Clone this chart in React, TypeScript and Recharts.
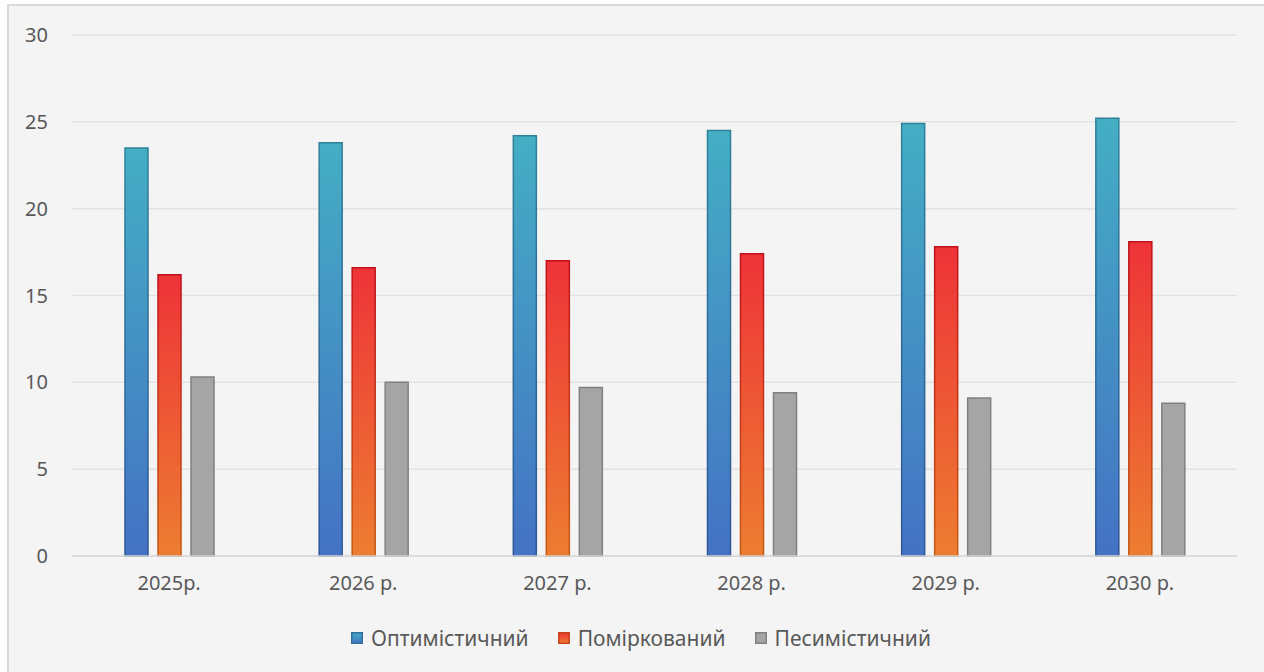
import { BarChart, Bar, XAxis, YAxis, CartesianGrid } from "recharts";

const years = ["2025р.", "2026 р.", "2027 р.", "2028 р.", "2029 р.", "2030 р."];
const optimistic = [23.5, 23.8, 24.2, 24.5, 24.9, 25.2];
const moderate = [16.2, 16.6, 17.0, 17.4, 17.8, 18.1];
const pessimistic = [10.3, 10.0, 9.7, 9.4, 9.1, 8.8];
const yTicks = [0, 5, 10, 15, 20, 25, 30];

const SERIES = [
  { key: "opt", label: "Оптимістичний", fill: "url(#gBlue)", stroke: "url(#sBlue)", swatch: "url(#lgBlue)", swStroke: "#2f6fa0" },
  { key: "mod", label: "Поміркований", fill: "url(#gRed)", stroke: "url(#sRed)", swatch: "url(#lgRed)", swStroke: "#c5441a" },
  { key: "pes", label: "Песимістичний", fill: "#a5a5a5", stroke: "#808080", swatch: "#a5a5a5", swStroke: "#808080" },
];

const data = years.map((year, i) => ({
  year,
  opt: optimistic[i],
  mod: moderate[i],
  pes: pessimistic[i],
}));

const FONT = "'Noto Sans', sans-serif";
const TEXT = "#595959";

function LegendRow() {
  return (
    <div
      style={{
        position: "absolute",
        left: 0,
        width: 1282,
        top: 624,
        display: "flex",
        justifyContent: "center",
        gap: 29,
        fontFamily: FONT,
        fontSize: 21,
        color: TEXT,
      }}
    >
      {SERIES.map((s) => (
        <div key={s.key} style={{ display: "flex", alignItems: "center" }}>
          <svg width={12} height={12} style={{ marginRight: 8 }}>
            <rect x={0.75} y={0.75} width={10.5} height={10.5} fill={s.swatch} stroke={s.swStroke} strokeWidth={1.5} />
          </svg>
          <span>{s.label}</span>
        </div>
      ))}
    </div>
  );
}

export default function App() {
  return (
    <div style={{ position: "absolute", left: 0, top: 0, width: 1264, height: 672, background: "#fff", overflow: "hidden" }}>
      <svg width={0} height={0} style={{ position: "absolute" }}>
        <defs>
          <linearGradient id="lgBlue" x1="0" y1="0" x2="0" y2="1">
            <stop offset="0%" stopColor="#44aec4" />
            <stop offset="100%" stopColor="#4472c4" />
          </linearGradient>
          <linearGradient id="lgRed" x1="0" y1="0" x2="0" y2="1">
            <stop offset="0%" stopColor="#ee3338" />
            <stop offset="100%" stopColor="#ed7d31" />
          </linearGradient>
        </defs>
      </svg>
      <div
        style={{
          position: "absolute",
          left: 7,
          top: 4,
          width: 1264,
          height: 680,
          background: "#f4f4f4",
          borderLeft: "2px solid #d9d9d9",
          borderTop: "2px solid #d9d9d9",
        }}
      />
      <div style={{ position: "absolute", left: 0, top: 0 }}>
        <BarChart
          width={1264}
          height={672}
          data={data}
          margin={{ top: 35, right: 27, left: 0, bottom: 86 }}
          barGap={10}
          barCategoryGap={53}
        >
          <defs>
            <linearGradient id="gBlue" x1="0" y1="0" x2="0" y2="1">
              <stop offset="0%" stopColor="#44aec4" />
              <stop offset="100%" stopColor="#4472c4" />
            </linearGradient>
            <linearGradient id="sBlue" x1="0" y1="0" x2="0" y2="1">
              <stop offset="0%" stopColor="#2f8199" />
              <stop offset="100%" stopColor="#2f5597" />
            </linearGradient>
            <linearGradient id="gRed" x1="0" y1="0" x2="0" y2="1">
              <stop offset="0%" stopColor="#ee3338" />
              <stop offset="100%" stopColor="#ed7d31" />
            </linearGradient>
            <linearGradient id="sRed" x1="0" y1="0" x2="0" y2="1">
              <stop offset="0%" stopColor="#c0101a" />
              <stop offset="100%" stopColor="#c55a11" />
            </linearGradient>
          </defs>
          <CartesianGrid vertical={false} stroke="#e2e2e2" strokeWidth={1.5} />
          <XAxis
            dataKey="year"
            height={30}
            tickLine={false}
            tickSize={0}
            tickMargin={20}
            axisLine={{ stroke: "#d9d9d9", strokeWidth: 1.5 }}
            tick={{ fontSize: 20, fill: TEXT, fontFamily: FONT }}
          />
          <YAxis
            width={72}
            domain={[0, 30]}
            ticks={yTicks}
            tickLine={false}
            tickSize={0}
            tickMargin={24}
            axisLine={false}
            tick={{ fontSize: 20, fill: TEXT, fontFamily: FONT }}
          />
          {SERIES.map((s) => (
            <Bar
              key={s.key}
              dataKey={s.key}
              name={s.label}
              fill={s.fill}
              stroke={s.stroke}
              strokeWidth={1.5}
              isAnimationActive={false}
            />
          ))}
        </BarChart>
      </div>
      <LegendRow />
    </div>
  );
}
